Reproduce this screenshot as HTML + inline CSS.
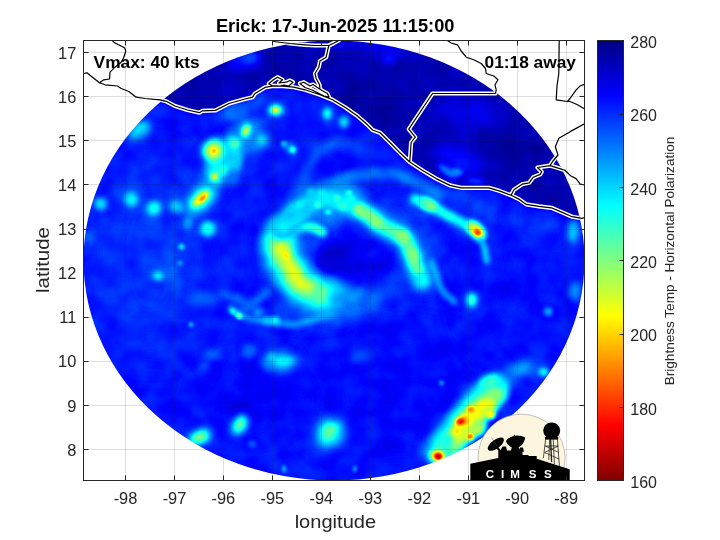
<!DOCTYPE html>
<html><head><meta charset="utf-8"><title>Erick</title>
<style>
html,body{margin:0;padding:0;background:#fff;}
body{width:720px;height:540px;overflow:hidden;font-family:"Liberation Sans",sans-serif;}
svg{display:block;will-change:transform;}
text{font-family:"Liberation Sans",sans-serif;}
</style></head><body>
<svg width="720" height="540" viewBox="0 0 720 540">
<defs>
<filter id="jet" x="0" y="0" width="720" height="540" filterUnits="userSpaceOnUse" color-interpolation-filters="sRGB">
<feTurbulence type="fractalNoise" baseFrequency="0.05" numOctaves="2" seed="11" result="n"/>
<feColorMatrix in="n" type="matrix" values="1 0 0 0 0 1 0 0 0 0 1 0 0 0 0 0 0 0 0 1" result="ng"/>
<feComposite in="SourceGraphic" in2="ng" operator="arithmetic" k1="0.12" k2="0.94" k3="0.06" k4="-0.03" result="vn"/>
<feComponentTransfer in="vn">
<feFuncR type="table" tableValues="0 0 0 0 0.5 1 1 1 0.5"/>
<feFuncG type="table" tableValues="0 0 0.5 1 1 1 0.5 0 0"/>
<feFuncB type="table" tableValues="0.5 1 1 1 0.5 0 0 0 0"/>
</feComponentTransfer></filter>
<filter id="b1" filterUnits="userSpaceOnUse" x="60" y="20" width="550" height="480" color-interpolation-filters="sRGB"><feGaussianBlur stdDeviation="1"/></filter>
<filter id="b1_5" filterUnits="userSpaceOnUse" x="60" y="20" width="550" height="480" color-interpolation-filters="sRGB"><feGaussianBlur stdDeviation="1.5"/></filter>
<filter id="b2" filterUnits="userSpaceOnUse" x="60" y="20" width="550" height="480" color-interpolation-filters="sRGB"><feGaussianBlur stdDeviation="2"/></filter>
<filter id="b2_5" filterUnits="userSpaceOnUse" x="60" y="20" width="550" height="480" color-interpolation-filters="sRGB"><feGaussianBlur stdDeviation="2.5"/></filter>
<filter id="b3" filterUnits="userSpaceOnUse" x="60" y="20" width="550" height="480" color-interpolation-filters="sRGB"><feGaussianBlur stdDeviation="3"/></filter>
<filter id="b4" filterUnits="userSpaceOnUse" x="60" y="20" width="550" height="480" color-interpolation-filters="sRGB"><feGaussianBlur stdDeviation="4"/></filter>
<filter id="b5" filterUnits="userSpaceOnUse" x="60" y="20" width="550" height="480" color-interpolation-filters="sRGB"><feGaussianBlur stdDeviation="5"/></filter>
<filter id="b6" filterUnits="userSpaceOnUse" x="60" y="20" width="550" height="480" color-interpolation-filters="sRGB"><feGaussianBlur stdDeviation="6"/></filter>
<filter id="b8" filterUnits="userSpaceOnUse" x="60" y="20" width="550" height="480" color-interpolation-filters="sRGB"><feGaussianBlur stdDeviation="8"/></filter>
<filter id="b10" filterUnits="userSpaceOnUse" x="60" y="20" width="550" height="480" color-interpolation-filters="sRGB"><feGaussianBlur stdDeviation="10"/></filter>
<filter id="b14" filterUnits="userSpaceOnUse" x="60" y="20" width="550" height="480" color-interpolation-filters="sRGB"><feGaussianBlur stdDeviation="14"/></filter>
<filter id="b20" filterUnits="userSpaceOnUse" x="60" y="20" width="550" height="480" color-interpolation-filters="sRGB"><feGaussianBlur stdDeviation="20"/></filter>
<filter id="b30" filterUnits="userSpaceOnUse" x="60" y="20" width="550" height="480" color-interpolation-filters="sRGB"><feGaussianBlur stdDeviation="30"/></filter>
<clipPath id="disc"><ellipse cx="334" cy="260.5" rx="250.5" ry="220"/></clipPath>
<clipPath id="landclip"><path d="M150 30L160 99.8L166.2 101.3L175 106L187.5 110L199.4 112.7L202.5 110.8L215.5 110.4L229 103.5L245 99L252.5 97.2L255 93.5L260 90.5L265 87.4L272 86.2L280 86L293.8 87.2L305 89.8L320 94.8L332.5 99.8L345 107.2L357.5 116L367.5 124.8L372.5 130L380 132.8L390 142.5L400 152.8L409.7 162L422.2 170.3L436.1 178.6L450 185.4L461.1 187.8L488.9 187.8L500 191.1L511.1 195.3L519.4 199.4L526.4 204.4L538.9 206.4L551.4 207.8L561.1 211.9L572.2 216.7L581.9 218.3L584.7 217.5L590 218L590 30Z"/></clipPath>
<clipPath id="axclip"><rect x="83.5" y="40.5" width="501" height="440"/></clipPath>
<linearGradient id="cbar" x1="0" y1="0" x2="0" y2="1">
<stop offset="0" stop-color="rgb(0,0,132)"/>
<stop offset="0.125" stop-color="rgb(0,0,255)"/>
<stop offset="0.25" stop-color="rgb(0,128,255)"/>
<stop offset="0.375" stop-color="rgb(0,255,255)"/>
<stop offset="0.5" stop-color="rgb(128,255,128)"/>
<stop offset="0.625" stop-color="rgb(255,255,0)"/>
<stop offset="0.75" stop-color="rgb(255,128,0)"/>
<stop offset="0.875" stop-color="rgb(255,0,0)"/>
<stop offset="1" stop-color="rgb(128,0,0)"/>
</linearGradient>
</defs>
<rect x="0" y="0" width="720" height="540" fill="#fff"/>
<g clip-path="url(#disc)">
<g filter="url(#jet)">
<rect x="80" y="36" width="510" height="450" fill="rgb(37,37,37)"/>
<ellipse cx="150" cy="255" rx="60" ry="95" fill="rgb(44,44,44)" filter="url(#b20)"/>
<ellipse cx="400" cy="400" rx="90" ry="60" fill="rgb(33,33,33)" filter="url(#b20)"/>
<ellipse cx="520" cy="280" rx="50" ry="80" fill="rgb(36,36,36)" filter="url(#b20)"/>
<ellipse cx="250" cy="400" rx="50" ry="30" fill="rgb(31,31,31)" filter="url(#b14)"/>
<path d="M150 30L160 99.8L166.2 101.3L175 106L187.5 110L199.4 112.7L202.5 110.8L215.5 110.4L229 103.5L245 99L252.5 97.2L255 93.5L260 90.5L265 87.4L272 86.2L280 86L293.8 87.2L305 89.8L320 94.8L332.5 99.8L345 107.2L357.5 116L367.5 124.8L372.5 130L380 132.8L390 142.5L400 152.8L409.7 162L422.2 170.3L436.1 178.6L450 185.4L461.1 187.8L488.9 187.8L500 191.1L511.1 195.3L519.4 199.4L526.4 204.4L538.9 206.4L551.4 207.8L561.1 211.9L572.2 216.7L581.9 218.3L584.7 217.5L590 218L590 30Z" fill="rgb(13,13,13)" filter="url(#b2_5)"/>
<g clip-path="url(#landclip)">
<ellipse cx="245" cy="60" rx="17" ry="10" transform="rotate(-20 245 60)" fill="rgb(38,38,38)" filter="url(#b5)"/>
<ellipse cx="250" cy="58" rx="8" ry="5" transform="rotate(-20 250 58)" fill="rgb(54,54,54)" filter="url(#b3)"/>
<ellipse cx="370" cy="110" rx="38" ry="30" transform="rotate(35 370 110)" fill="rgb(9,9,9)" filter="url(#b8)"/>
<ellipse cx="300" cy="70" rx="25" ry="12" fill="rgb(10,10,10)" filter="url(#b6)"/>
<ellipse cx="370" cy="47" rx="55" ry="7" transform="rotate(6 370 47)" fill="rgb(26,26,26)" filter="url(#b4)"/>
<ellipse cx="388" cy="59" rx="7" ry="5" fill="rgb(38,38,38)" filter="url(#b3)"/>
<ellipse cx="470" cy="115" rx="32" ry="18" transform="rotate(10 470 115)" fill="rgb(26,26,26)" filter="url(#b8)"/>
<ellipse cx="515" cy="150" rx="42" ry="13" transform="rotate(20 515 150)" fill="rgb(9,9,9)" filter="url(#b6)"/>
<ellipse cx="460" cy="160" rx="24" ry="13" transform="rotate(30 460 160)" fill="rgb(36,36,36)" filter="url(#b6)"/>
<ellipse cx="447" cy="171" rx="12" ry="4" transform="rotate(32 447 171)" fill="rgb(64,64,64)" filter="url(#b2_5)"/>
<ellipse cx="457" cy="172" rx="6" ry="3.5" transform="rotate(20 457 172)" fill="rgb(71,71,71)" filter="url(#b2)"/>
<ellipse cx="475" cy="181" rx="10" ry="3.5" transform="rotate(10 475 181)" fill="rgb(48,48,48)" filter="url(#b2_5)"/>
<ellipse cx="530" cy="76" rx="20" ry="10" transform="rotate(35 530 76)" fill="rgb(23,23,23)" filter="url(#b6)"/>
<ellipse cx="545" cy="195" rx="22" ry="8" transform="rotate(15 545 195)" fill="rgb(10,10,10)" filter="url(#b4)"/>
</g>
<ellipse cx="352" cy="305" rx="34" ry="16" transform="rotate(-8 352 305)" fill="rgb(52,52,52)" filter="url(#b6)"/>
<ellipse cx="310" cy="315" rx="40" ry="11" fill="rgb(48,48,48)" filter="url(#b6)"/>
<path d="M338 299C341.7 299.2 352.7 300.7 360 300C367.3 299.3 375.3 297.7 382 295C388.7 292.3 395.0 287.2 400 284C405.0 280.8 410.0 277.3 412 276" fill="none" stroke="rgb(60,60,60)" stroke-width="12" stroke-linecap="round" stroke-linejoin="round" filter="url(#b4)"/>
<ellipse cx="303" cy="265" rx="30" ry="42" fill="rgb(51,51,51)" filter="url(#b8)"/>
<ellipse cx="400" cy="250" rx="40" ry="45" fill="rgb(46,46,46)" filter="url(#b10)"/>
<path d="M296 206C296.8 203.0 299.2 194.0 301 188C302.8 182.0 303.8 175.8 307 170C310.2 164.2 314.5 157.5 320 153C325.5 148.5 333.8 144.2 340 143C346.2 141.8 354.2 145.5 357 146" fill="none" stroke="rgb(55,55,55)" stroke-width="10" stroke-linecap="round" stroke-linejoin="round" filter="url(#b4)"/>
<path d="M333 182C336.2 180.9 345.8 176.9 352 175.5C358.2 174.1 362.8 173.8 370 173.5C377.2 173.2 386.7 172.1 395 174C403.3 175.9 412.3 181.3 420 185C427.7 188.7 437.5 194.2 441 196" fill="none" stroke="rgb(64,64,64)" stroke-width="11" stroke-linecap="round" stroke-linejoin="round" filter="url(#b3)"/>
<ellipse cx="332" cy="202" rx="31" ry="21" transform="rotate(-10 332 202)" fill="rgb(69,69,69)" filter="url(#b6)"/>
<ellipse cx="366" cy="258" rx="32" ry="24" fill="rgb(29,29,29)" filter="url(#b8)"/>
<ellipse cx="331" cy="261" rx="17" ry="19" fill="rgb(22,22,22)" filter="url(#b5)"/>
<ellipse cx="335" cy="160" rx="18" ry="8" transform="rotate(-10 335 160)" fill="rgb(33,33,33)" filter="url(#b5)"/>
<path d="M279 245C279.7 247.2 281.0 253.5 283 258C285.0 262.5 287.8 267.5 291 272C294.2 276.5 297.7 281.2 302 285C306.3 288.8 311.5 292.7 317 295C322.5 297.3 332.0 298.3 335 299" fill="none" stroke="rgb(64,64,64)" stroke-width="42" stroke-linecap="round" stroke-linejoin="round" filter="url(#b5)"/>
<path d="M281 232C280.7 234.2 278.7 240.7 279 245C279.3 249.3 281.0 253.5 283 258C285.0 262.5 287.8 267.5 291 272C294.2 276.5 297.7 281.2 302 285C306.3 288.8 313.0 292.8 317 295C321.0 297.2 324.5 297.5 326 298" fill="none" stroke="rgb(89,89,89)" stroke-width="33" stroke-linecap="round" stroke-linejoin="round" filter="url(#b4)"/>
<path d="M281 237C280.8 238.5 279.5 242.5 280 246C280.5 249.5 282.1 253.7 284 258C285.9 262.3 288.5 267.7 291.5 272C294.5 276.3 297.9 280.5 302 284C306.1 287.5 313.7 291.5 316 293" fill="none" stroke="rgb(120,120,120)" stroke-width="24" stroke-linecap="round" stroke-linejoin="round" filter="url(#b3)"/>
<path d="M281.5 243C282.1 245.5 283.2 253.3 285 258C286.8 262.7 289.3 267.0 292 271C294.7 275.0 298.2 279.2 301 282C303.8 284.8 307.7 287.0 309 288" fill="none" stroke="rgb(153,153,153)" stroke-width="12" stroke-linecap="round" stroke-linejoin="round" filter="url(#b3)"/>
<path d="M284 232C286.3 231.2 293.3 227.8 298 227C302.7 226.2 308.0 226.2 312 227C316.0 227.8 320.3 231.2 322 232" fill="none" stroke="rgb(110,110,110)" stroke-width="9" stroke-linecap="round" stroke-linejoin="round" filter="url(#b2_5)"/>
<ellipse cx="286.5" cy="256.5" rx="2.4" ry="4.2" transform="rotate(-15 286.5 256.5)" fill="rgb(173,173,173)" filter="url(#b1_5)"/>
<path d="M335 300C337.2 299.5 343.8 298.2 348 297C352.2 295.8 358.0 293.7 360 293" fill="none" stroke="rgb(69,69,69)" stroke-width="9" stroke-linecap="round" stroke-linejoin="round" filter="url(#b3)"/>
<path d="M231 309C233.0 310.2 238.5 314.2 243 316C247.5 317.8 252.3 318.8 258 320C263.7 321.2 270.8 322.3 277 323C283.2 323.7 289.2 324.5 295 324C300.8 323.5 305.7 322.0 312 320C318.3 318.0 329.5 313.3 333 312" fill="none" stroke="rgb(76,76,76)" stroke-width="6" stroke-linecap="round" stroke-linejoin="round" filter="url(#b2_5)"/>
<path d="M283 228C284.8 225.7 289.3 218.0 294 214C298.7 210.0 304.2 206.5 311 204C317.8 201.5 326.7 198.0 335 199C343.3 200.0 353.8 206.0 361 210C368.2 214.0 371.0 218.5 378 223C385.0 227.5 397.5 232.3 403 237C408.5 241.7 408.7 245.8 411 251C413.3 256.2 415.3 263.2 417 268C418.7 272.8 420.3 278.0 421 280" fill="none" stroke="rgb(66,66,66)" stroke-width="25" stroke-linecap="round" stroke-linejoin="round" filter="url(#b5)"/>
<path d="M283 228C284.8 225.7 289.3 218.0 294 214C298.7 210.0 304.2 206.5 311 204C317.8 201.5 326.7 198.0 335 199C343.3 200.0 353.8 206.0 361 210C368.2 214.0 371.0 218.5 378 223C385.0 227.5 397.5 232.3 403 237C408.5 241.7 408.7 245.8 411 251C413.3 256.2 415.3 263.2 417 268C418.7 272.8 420.3 278.0 421 280" fill="none" stroke="rgb(93,93,93)" stroke-width="17" stroke-linecap="round" stroke-linejoin="round" filter="url(#b3)"/>
<ellipse cx="299" cy="214" rx="14" ry="8" transform="rotate(-38 299 214)" fill="rgb(89,89,89)" filter="url(#b3)"/>
<path d="M361 210C363.8 212.2 371.0 218.5 378 223C385.0 227.5 397.5 232.3 403 237C408.5 241.7 408.7 245.8 411 251C413.3 256.2 416.0 265.2 417 268" fill="none" stroke="rgb(120,120,120)" stroke-width="11" stroke-linecap="round" stroke-linejoin="round" filter="url(#b2_5)"/>
<ellipse cx="361" cy="210.5" rx="8" ry="5" transform="rotate(25 361 210.5)" fill="rgb(128,128,128)" filter="url(#b2_5)"/>
<ellipse cx="378" cy="223" rx="7" ry="4.5" transform="rotate(30 378 223)" fill="rgb(133,133,133)" filter="url(#b2_5)"/>
<ellipse cx="403" cy="238" rx="6" ry="6" fill="rgb(128,128,128)" filter="url(#b2_5)"/>
<ellipse cx="412" cy="253" rx="4" ry="7" transform="rotate(-20 412 253)" fill="rgb(122,122,122)" filter="url(#b2)"/>
<ellipse cx="417" cy="268" rx="3.5" ry="6" transform="rotate(-10 417 268)" fill="rgb(122,122,122)" filter="url(#b2)"/>
<path d="M431 262C432.0 264.5 435.2 272.3 437 277C438.8 281.7 439.2 285.8 442 290C444.8 294.2 452.0 300.0 454 302" fill="none" stroke="rgb(79,79,79)" stroke-width="6" stroke-linecap="round" stroke-linejoin="round" filter="url(#b2_5)"/>
<ellipse cx="318" cy="205" rx="4" ry="3" fill="rgb(112,112,112)" filter="url(#b1_5)"/>
<ellipse cx="337" cy="198" rx="3" ry="3" fill="rgb(115,115,115)" filter="url(#b1_5)"/>
<ellipse cx="349" cy="193" rx="3" ry="2.5" fill="rgb(107,107,107)" filter="url(#b1_5)"/>
<ellipse cx="328" cy="212" rx="3" ry="2.5" fill="rgb(107,107,107)" filter="url(#b1_5)"/>
<ellipse cx="300" cy="205" rx="4" ry="3" fill="rgb(102,102,102)" filter="url(#b2)"/>
<ellipse cx="343" cy="207" rx="4" ry="3" fill="rgb(107,107,107)" filter="url(#b2)"/>
<ellipse cx="322" cy="193" rx="4" ry="3" fill="rgb(92,92,92)" filter="url(#b2)"/>
<ellipse cx="352" cy="199" rx="4" ry="3" fill="rgb(102,102,102)" filter="url(#b2)"/>
<ellipse cx="310" cy="192" rx="4" ry="3" fill="rgb(84,84,84)" filter="url(#b2)"/>
<path d="M415 199C416.8 199.6 420.9 200.1 426 202.5C431.1 204.9 440.0 210.6 445.6 213.6C451.2 216.6 455.0 218.2 459.4 220.6C463.8 223.0 469.9 226.8 472 228" fill="none" stroke="rgb(69,69,69)" stroke-width="14" stroke-linecap="round" stroke-linejoin="round" filter="url(#b3)"/>
<path d="M415 199C416.8 199.6 420.9 200.1 426 202.5C431.1 204.9 440.0 210.6 445.6 213.6C451.2 216.6 455.0 218.2 459.4 220.6C463.8 223.0 469.9 226.8 472 228" fill="none" stroke="rgb(102,102,102)" stroke-width="8" stroke-linecap="round" stroke-linejoin="round" filter="url(#b2)"/>
<ellipse cx="429" cy="204.5" rx="11" ry="6" transform="rotate(25 429 204.5)" fill="rgb(102,102,102)" filter="url(#b2_5)"/>
<ellipse cx="429.5" cy="205" rx="8" ry="4" transform="rotate(25 429.5 205)" fill="rgb(133,133,133)" filter="url(#b2)"/>
<ellipse cx="476" cy="230" rx="13" ry="7.5" transform="rotate(50 476 230)" fill="rgb(107,107,107)" filter="url(#b2_5)"/>
<ellipse cx="476" cy="230" rx="10" ry="5" transform="rotate(50 476 230)" fill="rgb(156,156,156)" filter="url(#b2)"/>
<ellipse cx="477.4" cy="232.2" rx="4.8" ry="3.2" transform="rotate(50 477.4 232.2)" fill="rgb(194,194,194)" filter="url(#b1_5)"/>
<ellipse cx="477.6" cy="232.6" rx="2.6" ry="1.8" transform="rotate(50 477.6 232.6)" fill="rgb(212,212,212)" filter="url(#b1)"/>
<path d="M481 240C481.6 241.4 483.4 244.8 484.4 248.3C485.3 251.8 486.3 258.9 486.7 261" fill="none" stroke="rgb(82,82,82)" stroke-width="6" stroke-linecap="round" stroke-linejoin="round" filter="url(#b2)"/>
<ellipse cx="472" cy="299.7" rx="6.5" ry="9" fill="rgb(76,76,76)" filter="url(#b3)"/>
<ellipse cx="472" cy="299.7" rx="3.4" ry="5.4" fill="rgb(112,112,112)" filter="url(#b2)"/>
<ellipse cx="548.3" cy="312" rx="4" ry="4" fill="rgb(87,87,87)" filter="url(#b2)"/>
<ellipse cx="573.3" cy="231.7" rx="6" ry="11" fill="rgb(79,79,79)" filter="url(#b3)"/>
<ellipse cx="574.7" cy="291.4" rx="6" ry="10" fill="rgb(69,69,69)" filter="url(#b3)"/>
<ellipse cx="509.4" cy="290" rx="7" ry="7" fill="rgb(26,26,26)" filter="url(#b4)"/>
<ellipse cx="424.4" cy="203.9" rx="5" ry="4" fill="rgb(102,102,102)" filter="url(#b2)"/>
<ellipse cx="470" cy="205" rx="30" ry="10" transform="rotate(18 470 205)" fill="rgb(47,47,47)" filter="url(#b6)"/>
<ellipse cx="530" cy="225" rx="30" ry="10" transform="rotate(15 530 225)" fill="rgb(46,46,46)" filter="url(#b6)"/>
<path d="M268 292C266.0 293.5 260.0 297.8 256 301C252.0 304.2 246.0 309.3 244 311" fill="none" stroke="rgb(69,69,69)" stroke-width="6" stroke-linecap="round" stroke-linejoin="round" filter="url(#b3)"/>
<ellipse cx="239" cy="316" rx="3.2" ry="2.4" transform="rotate(30 239 316)" fill="rgb(140,140,140)" filter="url(#b1_5)"/>
<ellipse cx="233" cy="311.5" rx="4" ry="2.5" transform="rotate(35 233 311.5)" fill="rgb(97,97,97)" filter="url(#b1_5)"/>
<ellipse cx="258" cy="312" rx="4" ry="3" fill="rgb(92,92,92)" filter="url(#b2)"/>
<ellipse cx="275" cy="320.5" rx="5" ry="3.5" fill="rgb(102,102,102)" filter="url(#b2)"/>
<ellipse cx="203" cy="300" rx="16" ry="6" fill="rgb(59,59,59)" filter="url(#b4)"/>
<ellipse cx="172" cy="268" rx="6" ry="22" transform="rotate(-20 172 268)" fill="rgb(54,54,54)" filter="url(#b4)"/>
<path d="M222 293C225.0 294.2 233.3 296.8 240 300C246.7 303.2 258.3 310.0 262 312" fill="none" stroke="rgb(66,66,66)" stroke-width="6" stroke-linecap="round" stroke-linejoin="round" filter="url(#b3)"/>
<ellipse cx="267" cy="320" rx="5" ry="3.5" fill="rgb(87,87,87)" filter="url(#b2)"/>
<ellipse cx="191" cy="324.4" rx="2.5" ry="2.5" fill="rgb(84,84,84)" filter="url(#b1_5)"/>
<ellipse cx="157.8" cy="275.8" rx="7" ry="6" fill="rgb(69,69,69)" filter="url(#b3)"/>
<ellipse cx="157.8" cy="275.8" rx="4" ry="3.5" fill="rgb(97,97,97)" filter="url(#b2)"/>
<ellipse cx="181.4" cy="246.7" rx="3" ry="3" fill="rgb(89,89,89)" filter="url(#b1_5)"/>
<ellipse cx="180" cy="263" rx="2.5" ry="2.5" fill="rgb(76,76,76)" filter="url(#b1_5)"/>
<ellipse cx="88" cy="236" rx="5" ry="5" fill="rgb(61,61,61)" filter="url(#b3)"/>
<ellipse cx="249.4" cy="349.4" rx="7" ry="5" fill="rgb(69,69,69)" filter="url(#b3)"/>
<ellipse cx="213" cy="355" rx="8" ry="5" fill="rgb(56,56,56)" filter="url(#b3)"/>
<ellipse cx="281" cy="361" rx="19" ry="11.5" fill="rgb(68,68,68)" filter="url(#b4)"/>
<ellipse cx="284" cy="360.5" rx="9.5" ry="5" fill="rgb(97,97,97)" filter="url(#b2_5)"/>
<ellipse cx="272" cy="357" rx="4" ry="3" fill="rgb(87,87,87)" filter="url(#b2)"/>
<ellipse cx="249.4" cy="354" rx="6" ry="4" fill="rgb(66,66,66)" filter="url(#b3)"/>
<ellipse cx="203.6" cy="366.4" rx="5" ry="4" fill="rgb(59,59,59)" filter="url(#b3)"/>
<ellipse cx="358" cy="358" rx="10" ry="5" fill="rgb(56,56,56)" filter="url(#b4)"/>
<ellipse cx="241" cy="406.7" rx="14" ry="10" fill="rgb(28,28,28)" filter="url(#b6)"/>
<path d="M250 126C247.7 128.7 240.7 136.3 236 142C231.3 147.7 225.7 153.7 222 160C218.3 166.3 216.8 174.3 214 180C211.2 185.7 208.3 189.7 205 194C201.7 198.3 195.8 204.0 194 206" fill="none" stroke="rgb(60,60,60)" stroke-width="26" stroke-linecap="round" stroke-linejoin="round" filter="url(#b5)"/>
<path d="M246 130C244.0 132.3 238.0 138.7 234 144C230.0 149.3 225.3 156.0 222 162C218.7 168.0 216.8 174.7 214 180C211.2 185.3 208.0 190.0 205 194C202.0 198.0 197.5 202.3 196 204" fill="none" stroke="rgb(76,76,76)" stroke-width="15" stroke-linecap="round" stroke-linejoin="round" filter="url(#b4)"/>
<ellipse cx="250" cy="138" rx="18" ry="12" transform="rotate(20 250 138)" fill="rgb(64,64,64)" filter="url(#b5)"/>
<ellipse cx="225" cy="160" rx="15" ry="21" transform="rotate(38 225 160)" fill="rgb(88,88,88)" filter="url(#b4)"/>
<ellipse cx="214.5" cy="150.5" rx="13" ry="12.5" fill="rgb(97,97,97)" filter="url(#b3)"/>
<ellipse cx="214.2" cy="150.8" rx="9.5" ry="9" fill="rgb(128,128,128)" filter="url(#b2_5)"/>
<ellipse cx="214" cy="151" rx="6" ry="5.5" fill="rgb(153,153,153)" filter="url(#b2)"/>
<ellipse cx="214" cy="151" rx="2.2" ry="2" fill="rgb(176,176,176)" filter="url(#b1)"/>
<ellipse cx="246" cy="130.7" rx="6" ry="8.5" transform="rotate(25 246 130.7)" fill="rgb(97,97,97)" filter="url(#b2_5)"/>
<ellipse cx="246" cy="130.7" rx="3.6" ry="5.6" transform="rotate(25 246 130.7)" fill="rgb(133,133,133)" filter="url(#b1_5)"/>
<ellipse cx="246.2" cy="130.5" rx="2" ry="3" transform="rotate(25 246.2 130.5)" fill="rgb(148,148,148)" filter="url(#b1)"/>
<ellipse cx="234.2" cy="142.8" rx="7" ry="6" fill="rgb(102,102,102)" filter="url(#b2_5)"/>
<ellipse cx="215.5" cy="176.5" rx="7.5" ry="7.5" fill="rgb(97,97,97)" filter="url(#b2_5)"/>
<ellipse cx="214.8" cy="176.7" rx="4.2" ry="4.4" fill="rgb(133,133,133)" filter="url(#b1_5)"/>
<ellipse cx="214.6" cy="176.9" rx="2.2" ry="2.4" fill="rgb(156,156,156)" filter="url(#b1)"/>
<ellipse cx="224.2" cy="171.5" rx="5" ry="4" fill="rgb(117,117,117)" filter="url(#b2)"/>
<ellipse cx="234.7" cy="144" rx="3.4" ry="3" fill="rgb(122,122,122)" filter="url(#b1_5)"/>
<ellipse cx="200.5" cy="198.5" rx="17" ry="9.5" transform="rotate(-42 200.5 198.5)" fill="rgb(92,92,92)" filter="url(#b3)"/>
<ellipse cx="200.5" cy="198.5" rx="12" ry="5.6" transform="rotate(-42 200.5 198.5)" fill="rgb(133,133,133)" filter="url(#b2)"/>
<ellipse cx="201" cy="198" rx="9" ry="3.6" transform="rotate(-42 201 198)" fill="rgb(163,163,163)" filter="url(#b1_5)"/>
<ellipse cx="202.6" cy="198.3" rx="3.6" ry="1.8" transform="rotate(-42 202.6 198.3)" fill="rgb(189,189,189)" filter="url(#b1)"/>
<ellipse cx="153.6" cy="208" rx="11" ry="9" fill="rgb(61,61,61)" filter="url(#b4)"/>
<ellipse cx="153.6" cy="208" rx="6.5" ry="6.5" fill="rgb(99,99,99)" filter="url(#b2_5)"/>
<ellipse cx="131.4" cy="199.7" rx="11" ry="10" fill="rgb(60,60,60)" filter="url(#b4)"/>
<ellipse cx="131.4" cy="199.7" rx="6" ry="6.5" fill="rgb(92,92,92)" filter="url(#b2_5)"/>
<ellipse cx="100.8" cy="203.9" rx="7" ry="7" fill="rgb(64,64,64)" filter="url(#b3)"/>
<ellipse cx="100.8" cy="203.9" rx="5" ry="5" fill="rgb(89,89,89)" filter="url(#b2_5)"/>
<ellipse cx="140" cy="131" rx="13" ry="8" transform="rotate(-35 140 131)" fill="rgb(69,69,69)" filter="url(#b3)"/>
<ellipse cx="139.7" cy="129.5" rx="8" ry="5" transform="rotate(-35 139.7 129.5)" fill="rgb(89,89,89)" filter="url(#b2_5)"/>
<ellipse cx="177.2" cy="206.7" rx="9" ry="7" fill="rgb(64,64,64)" filter="url(#b3)"/>
<ellipse cx="177.2" cy="206.7" rx="6" ry="5" fill="rgb(87,87,87)" filter="url(#b2_5)"/>
<ellipse cx="207.8" cy="228.9" rx="9" ry="8" fill="rgb(69,69,69)" filter="url(#b3)"/>
<ellipse cx="207.8" cy="228.9" rx="6.5" ry="6.5" fill="rgb(97,97,97)" filter="url(#b2_5)"/>
<ellipse cx="188.3" cy="223.3" rx="4" ry="7" transform="rotate(20 188.3 223.3)" fill="rgb(71,71,71)" filter="url(#b2_5)"/>
<ellipse cx="235.6" cy="112.2" rx="9" ry="7" fill="rgb(61,61,61)" filter="url(#b3)"/>
<path d="M222 116C225.5 114.8 236.3 111.7 243 109C249.7 106.3 258.8 101.5 262 100" fill="none" stroke="rgb(55,55,55)" stroke-width="11" stroke-linecap="round" stroke-linejoin="round" filter="url(#b4)"/>
<ellipse cx="262" cy="140" rx="8" ry="8" fill="rgb(69,69,69)" filter="url(#b3)"/>
<ellipse cx="262" cy="140" rx="4" ry="4" fill="rgb(94,94,94)" filter="url(#b2)"/>
<ellipse cx="275.8" cy="110" rx="10" ry="7" fill="rgb(76,76,76)" filter="url(#b3)"/>
<ellipse cx="275.8" cy="110" rx="6" ry="4.4" fill="rgb(117,117,117)" filter="url(#b2)"/>
<ellipse cx="275.8" cy="110" rx="3.6" ry="2.6" fill="rgb(153,153,153)" filter="url(#b1_5)"/>
<ellipse cx="327.2" cy="113.6" rx="6" ry="7" fill="rgb(66,66,66)" filter="url(#b3)"/>
<ellipse cx="327.2" cy="113.6" rx="3.5" ry="4.5" fill="rgb(102,102,102)" filter="url(#b2)"/>
<ellipse cx="343.9" cy="121.9" rx="6" ry="7" fill="rgb(64,64,64)" filter="url(#b3)"/>
<ellipse cx="343.9" cy="121.9" rx="3.5" ry="4.5" fill="rgb(97,97,97)" filter="url(#b2)"/>
<ellipse cx="290" cy="148" rx="7" ry="5" transform="rotate(35 290 148)" fill="rgb(69,69,69)" filter="url(#b2_5)"/>
<ellipse cx="292.5" cy="149.7" rx="3" ry="3" fill="rgb(107,107,107)" filter="url(#b1_5)"/>
<ellipse cx="284" cy="144" rx="3" ry="3" fill="rgb(82,82,82)" filter="url(#b1_5)"/>
<ellipse cx="235.6" cy="162" rx="5" ry="9" fill="rgb(84,84,84)" filter="url(#b2_5)"/>
<ellipse cx="232" cy="178" rx="8" ry="10" fill="rgb(59,59,59)" filter="url(#b4)"/>
<ellipse cx="199.4" cy="437.2" rx="14" ry="8.5" transform="rotate(-25 199.4 437.2)" fill="rgb(76,76,76)" filter="url(#b3)"/>
<ellipse cx="199.4" cy="437.2" rx="9.5" ry="5.5" transform="rotate(-25 199.4 437.2)" fill="rgb(102,102,102)" filter="url(#b2_5)"/>
<ellipse cx="199.4" cy="437.4" rx="6.5" ry="3.6" transform="rotate(-25 199.4 437.4)" fill="rgb(128,128,128)" filter="url(#b2)"/>
<ellipse cx="239.7" cy="424.7" rx="8.5" ry="12.5" transform="rotate(30 239.7 424.7)" fill="rgb(74,74,74)" filter="url(#b3)"/>
<ellipse cx="239.7" cy="424.7" rx="5" ry="8.5" transform="rotate(30 239.7 424.7)" fill="rgb(97,97,97)" filter="url(#b2_5)"/>
<ellipse cx="240" cy="424" rx="3" ry="5.5" transform="rotate(30 240 424)" fill="rgb(117,117,117)" filter="url(#b2)"/>
<ellipse cx="252" cy="444" rx="4" ry="3" fill="rgb(71,71,71)" filter="url(#b2)"/>
<ellipse cx="329.5" cy="433" rx="16" ry="18" transform="rotate(20 329.5 433)" fill="rgb(69,69,69)" filter="url(#b4)"/>
<ellipse cx="329.5" cy="433" rx="10.5" ry="12.5" transform="rotate(20 329.5 433)" fill="rgb(97,97,97)" filter="url(#b3)"/>
<ellipse cx="329.5" cy="432" rx="6" ry="8" transform="rotate(20 329.5 432)" fill="rgb(128,128,128)" filter="url(#b2_5)"/>
<ellipse cx="441.4" cy="383" rx="2.5" ry="2.5" fill="rgb(76,76,76)" filter="url(#b1_5)"/>
<ellipse cx="355" cy="469" rx="2" ry="3" fill="rgb(76,76,76)" filter="url(#b1_5)"/>
<ellipse cx="284" cy="469" rx="2" ry="3.5" fill="rgb(76,76,76)" filter="url(#b1_5)"/>
<path d="M436 452C438.0 449.3 443.7 441.5 448 436C452.3 430.5 457.2 424.7 462 419C466.8 413.3 472.3 406.8 477 402C481.7 397.2 487.8 392.0 490 390" fill="none" stroke="rgb(69,69,69)" stroke-width="30" stroke-linecap="round" stroke-linejoin="round" filter="url(#b4)"/>
<path d="M490 388C492.5 386.2 499.7 380.2 505 377C510.3 373.8 516.2 370.3 522 369C527.8 367.7 537.0 369.0 540 369" fill="none" stroke="rgb(62,62,62)" stroke-width="15" stroke-linecap="round" stroke-linejoin="round" filter="url(#b4)"/>
<path d="M446 446C448.0 443.3 453.8 435.2 458 430C462.2 424.8 466.7 419.7 471 415C475.3 410.3 480.2 406.2 484 402C487.8 397.8 492.3 392.0 494 390" fill="none" stroke="rgb(97,97,97)" stroke-width="30" stroke-linecap="round" stroke-linejoin="round" filter="url(#b3)"/>
<path d="M455 440C456.7 437.7 461.5 430.3 465 426C468.5 421.7 472.3 417.7 476 414C479.7 410.3 484.0 406.7 487 404C490.0 401.3 492.8 399.0 494 398" fill="none" stroke="rgb(128,128,128)" stroke-width="22" stroke-linecap="round" stroke-linejoin="round" filter="url(#b3)"/>
<path d="M457 434C458.5 432.2 462.8 426.5 466 423C469.2 419.5 472.3 415.8 476 413C479.7 410.2 486.0 407.2 488 406" fill="none" stroke="rgb(156,156,156)" stroke-width="16" stroke-linecap="round" stroke-linejoin="round" filter="url(#b2_5)"/>
<ellipse cx="478" cy="428" rx="7" ry="9" transform="rotate(40 478 428)" fill="rgb(133,133,133)" filter="url(#b2_5)"/>
<ellipse cx="461.5" cy="421.5" rx="6.5" ry="4.5" transform="rotate(-20 461.5 421.5)" fill="rgb(194,194,194)" filter="url(#b2)"/>
<ellipse cx="460.5" cy="421.5" rx="3.6" ry="2.6" transform="rotate(-20 460.5 421.5)" fill="rgb(224,224,224)" filter="url(#b1)"/>
<ellipse cx="471" cy="409.5" rx="3.5" ry="3" fill="rgb(189,189,189)" filter="url(#b1_5)"/>
<ellipse cx="470" cy="436.5" rx="4.5" ry="4" fill="rgb(153,153,153)" filter="url(#b2)"/>
<ellipse cx="470" cy="436.5" rx="3" ry="2.6" fill="rgb(191,191,191)" filter="url(#b1)"/>
<ellipse cx="457" cy="431" rx="3" ry="2.5" fill="rgb(178,178,178)" filter="url(#b1_5)"/>
<ellipse cx="491" cy="414.4" rx="4.5" ry="4" fill="rgb(168,168,168)" filter="url(#b1_5)"/>
<ellipse cx="482" cy="405.6" rx="4" ry="3.5" fill="rgb(168,168,168)" filter="url(#b1_5)"/>
<ellipse cx="489" cy="382" rx="10" ry="5.5" transform="rotate(-25 489 382)" fill="rgb(107,107,107)" filter="url(#b2_5)"/>
<ellipse cx="510" cy="412" rx="12" ry="10" fill="rgb(43,43,43)" filter="url(#b5)"/>
<ellipse cx="522" cy="368" rx="9" ry="5" transform="rotate(-20 522 368)" fill="rgb(74,74,74)" filter="url(#b3)"/>
<ellipse cx="543.5" cy="372" rx="5" ry="4" fill="rgb(102,102,102)" filter="url(#b2)"/>
<ellipse cx="445" cy="442" rx="9" ry="6" transform="rotate(-50 445 442)" fill="rgb(102,102,102)" filter="url(#b2_5)"/>
<ellipse cx="437.2" cy="455.3" rx="10" ry="8" fill="rgb(102,102,102)" filter="url(#b2_5)"/>
<ellipse cx="437.5" cy="455.6" rx="7" ry="5.5" fill="rgb(163,163,163)" filter="url(#b2)"/>
<ellipse cx="438" cy="456" rx="4.6" ry="3.6" fill="rgb(219,219,219)" filter="url(#b1_5)"/>
<ellipse cx="438.3" cy="456.8" rx="2.6" ry="2.2" fill="rgb(247,247,247)" filter="url(#b1)"/>
</g>
</g>
<path d="M125.5 40.5V480.5M174.5 40.5V480.5M223.5 40.5V480.5M272.5 40.5V480.5M321.5 40.5V480.5M370.5 40.5V480.5M419.5 40.5V480.5M468.5 40.5V480.5M517.5 40.5V480.5M566.5 40.5V480.5M83.5 449.5H584.5M83.5 405.5H584.5M83.5 361.5H584.5M83.5 317.5H584.5M83.5 273.5H584.5M83.5 229.5H584.5M83.5 184.5H584.5M83.5 140.5H584.5M83.5 96.5H584.5M83.5 52.5H584.5" stroke="#262626" stroke-opacity="0.15" stroke-width="1" fill="none"/>
<g clip-path="url(#axclip)">
<g clip-path="url(#disc)"><path d="M111.2 39.5L113.8 42.2L118 44.5L124.5 47.8L125.8 51L123.8 57.2L121.2 62.2L115 67.2L110 72.2L109.5 79L103.8 79.8L99.5 82.8M83.5 73.5L87 72.8L92.5 77.2L99.5 82.8L105 84.8L117.5 86L121.2 88.5L128.8 91.5L136.2 97.2L145 98.5L160 99.8L166.2 101.3L175 106L187.5 110L199.4 112.7L202.5 110.8L215.5 110.4L229 103.5L245 99L252.5 97.2L255 93.5L260 90.5L265 87.4L272 86.2L280 86L293.8 87.2L305 89.8L320 94.8L332.5 99.8L345 107.2L357.5 116L367.5 124.8L372.5 130L380 132.8L390 142.5L400 152.8L409.7 162L422.2 170.3L436.1 178.6L450 185.4L461.1 187.8L488.9 187.8L500 191.1L511.1 195.3L519.4 199.4L526.4 204.4L538.9 206.4L551.4 207.8L561.1 211.9L572.2 216.7L581.9 218.3L584.7 217.5M268.8 83.8L273 80L277.5 77.2L282.5 79.8L279 83L286.2 82.2L290 80.5L293 82.2L288.8 86L284 85L280 86L272 85.5L268.8 83.8M300 83.5L303.8 82.2L310 86L313 84.5L317 87.2L322 90.5L327.5 93.5L329 97.2L324 96L318 93L312 90L305 87.5L300 83.5M273.8 39.8L273.8 41.5L290 43.5L305 44.8L315 45.5L328.8 45.5L334 43L338.8 40.5M328.8 45.5L327.5 51L326.2 57.2L320 61L318.8 67.2L315 73.5L316.2 78.5L319.5 84.8L320 88.5M409.7 162L410.6 150.8L411.1 142.5L415.3 137.2L408.8 129.2L432.5 93.5L495.5 93.5L496.2 89.8L495 84.8L498 79.8L493.8 76L486.2 73.5L485.5 68.5L481.2 63.5L473.8 59.8L466.2 57.2L461.2 51L457.5 44.8L451.2 43L447.5 40.5M559.2 40.5L558.8 73.5L557 86L556.2 99.8L567.5 101.5L570 101.5L577.5 104.8L583.8 108.5L585 109M567.5 101.5L570 98.5L576.2 89.8L580 86L585 84M511.1 195.3L513.9 189.7L522.2 184.2L529.2 182.8L533.3 177.2L540.3 174.4L541.7 171.7L537.5 167.5L550 165.6M550 165.6L553 161L558 155L555.3 146.7L558.9 138.3L570.6 131.4L585 123.6M550 165.6L559.7 168.6L565 170.3L570.6 175.8L576 178.6L580.3 184.2L585 185" fill="none" stroke="#fff" stroke-width="4.2" stroke-linejoin="round" stroke-linecap="round"/></g>
<path d="M111.2 39.5L113.8 42.2L118 44.5L124.5 47.8L125.8 51L123.8 57.2L121.2 62.2L115 67.2L110 72.2L109.5 79L103.8 79.8L99.5 82.8M83.5 73.5L87 72.8L92.5 77.2L99.5 82.8L105 84.8L117.5 86L121.2 88.5L128.8 91.5L136.2 97.2L145 98.5L160 99.8L166.2 101.3L175 106L187.5 110L199.4 112.7L202.5 110.8L215.5 110.4L229 103.5L245 99L252.5 97.2L255 93.5L260 90.5L265 87.4L272 86.2L280 86L293.8 87.2L305 89.8L320 94.8L332.5 99.8L345 107.2L357.5 116L367.5 124.8L372.5 130L380 132.8L390 142.5L400 152.8L409.7 162L422.2 170.3L436.1 178.6L450 185.4L461.1 187.8L488.9 187.8L500 191.1L511.1 195.3L519.4 199.4L526.4 204.4L538.9 206.4L551.4 207.8L561.1 211.9L572.2 216.7L581.9 218.3L584.7 217.5M268.8 83.8L273 80L277.5 77.2L282.5 79.8L279 83L286.2 82.2L290 80.5L293 82.2L288.8 86L284 85L280 86L272 85.5L268.8 83.8M300 83.5L303.8 82.2L310 86L313 84.5L317 87.2L322 90.5L327.5 93.5L329 97.2L324 96L318 93L312 90L305 87.5L300 83.5M273.8 39.8L273.8 41.5L290 43.5L305 44.8L315 45.5L328.8 45.5L334 43L338.8 40.5M328.8 45.5L327.5 51L326.2 57.2L320 61L318.8 67.2L315 73.5L316.2 78.5L319.5 84.8L320 88.5M409.7 162L410.6 150.8L411.1 142.5L415.3 137.2L408.8 129.2L432.5 93.5L495.5 93.5L496.2 89.8L495 84.8L498 79.8L493.8 76L486.2 73.5L485.5 68.5L481.2 63.5L473.8 59.8L466.2 57.2L461.2 51L457.5 44.8L451.2 43L447.5 40.5M559.2 40.5L558.8 73.5L557 86L556.2 99.8L567.5 101.5L570 101.5L577.5 104.8L583.8 108.5L585 109M567.5 101.5L570 98.5L576.2 89.8L580 86L585 84M511.1 195.3L513.9 189.7L522.2 184.2L529.2 182.8L533.3 177.2L540.3 174.4L541.7 171.7L537.5 167.5L550 165.6M550 165.6L553 161L558 155L555.3 146.7L558.9 138.3L570.6 131.4L585 123.6M550 165.6L559.7 168.6L565 170.3L570.6 175.8L576 178.6L580.3 184.2L585 185" fill="none" stroke="#000" stroke-width="1.2" stroke-linejoin="round" stroke-linecap="round"/>
</g>
<g>
<clipPath id="lgclip"><rect x="465" y="405" width="115" height="75"/></clipPath>
<circle cx="521.5" cy="457.7" r="43.5" fill="#fdf6df" stroke="#aaa79c" stroke-width="0.7" clip-path="url(#lgclip)"/>
<ellipse cx="551.7" cy="430.6" rx="8.5" ry="8.2" fill="#000"/>
<rect x="545" y="437" width="13.2" height="2.6" fill="#000"/>
<path d="M545.6 439L543.4 458M557.4 439L559.4 466M549.6 439L548.8 460M553.2 439L554.4 464M545 446H558M544.4 452.5L558.4 446M544.6 452.5L559 459M545.4 446L558.8 452.5" stroke="#1a1a1a" stroke-width="0.75" fill="none"/>
<path d="M550.6 439L551.6 462" stroke="#1a1a1a" stroke-width="1.3" fill="none"/>
<path d="M470.3 480V463.7L498.3 458V451L500.5 450L502.5 446.5H506L507 450.5H519L520 447.5H523L524 451.7H522.5V455H528.5V456H536.7V458.7L569.7 469.2V480Z" fill="#000"/>
<ellipse cx="495.8" cy="444.2" rx="9.6" ry="4.3" transform="rotate(-36 495.8 444.2)" fill="#000"/>
<path d="M497 446L502 451.5L499.5 452L495.5 447Z" fill="#000"/>
<path d="M491.5 437.5L497 446" stroke="#555" stroke-width="0.5" fill="none"/>
<path d="M505.8 441.2Q508 437.5 513.6 436L514.2 434.6L515.4 435.7Q521 435.2 525.2 437.6Q524.4 443.5 520 446.6Q516.5 448.6 513.4 448.2Q508 446.6 505.8 441.2Z" fill="#000"/>
<path d="M512 447L510.5 451.5H520.5L518.5 447Z" fill="#000"/>
<text x="490" y="477.6" font-size="11.6" font-weight="bold" fill="#fff" text-anchor="middle">C</text>
<text x="502.6" y="477.6" font-size="11.6" font-weight="bold" fill="#fff" text-anchor="middle">I</text>
<text x="515" y="477.6" font-size="11.6" font-weight="bold" fill="#fff" text-anchor="middle">M</text>
<text x="532.6" y="477.6" font-size="11.6" font-weight="bold" fill="#fff" text-anchor="middle">S</text>
<text x="547.8" y="477.6" font-size="11.6" font-weight="bold" fill="#fff" text-anchor="middle">S</text>
</g>
<path d="M125.5 480.5v-5M125.5 40.5v5M174.5 480.5v-5M174.5 40.5v5M223.5 480.5v-5M223.5 40.5v5M272.5 480.5v-5M272.5 40.5v5M321.5 480.5v-5M321.5 40.5v5M370.5 480.5v-5M370.5 40.5v5M419.5 480.5v-5M419.5 40.5v5M468.5 480.5v-5M468.5 40.5v5M517.5 480.5v-5M517.5 40.5v5M566.5 480.5v-5M566.5 40.5v5M83.5 449.5h5M584.5 449.5h-5M83.5 405.5h5M584.5 405.5h-5M83.5 361.5h5M584.5 361.5h-5M83.5 317.5h5M584.5 317.5h-5M83.5 273.5h5M584.5 273.5h-5M83.5 229.5h5M584.5 229.5h-5M83.5 184.5h5M584.5 184.5h-5M83.5 140.5h5M584.5 140.5h-5M83.5 96.5h5M584.5 96.5h-5M83.5 52.5h5M584.5 52.5h-5" stroke="#262626" stroke-width="1" fill="none"/>
<rect x="83.5" y="40.5" width="501" height="440" fill="none" stroke="#262626" stroke-width="1"/>
<text x="125.5" y="503.8" font-size="16.4" fill="#262626" text-anchor="middle">-98</text>
<text x="174.5" y="503.8" font-size="16.4" fill="#262626" text-anchor="middle">-97</text>
<text x="223.4" y="503.8" font-size="16.4" fill="#262626" text-anchor="middle">-96</text>
<text x="272.4" y="503.8" font-size="16.4" fill="#262626" text-anchor="middle">-95</text>
<text x="321.4" y="503.8" font-size="16.4" fill="#262626" text-anchor="middle">-94</text>
<text x="370.3" y="503.8" font-size="16.4" fill="#262626" text-anchor="middle">-93</text>
<text x="419.3" y="503.8" font-size="16.4" fill="#262626" text-anchor="middle">-92</text>
<text x="468.3" y="503.8" font-size="16.4" fill="#262626" text-anchor="middle">-91</text>
<text x="517.2" y="503.8" font-size="16.4" fill="#262626" text-anchor="middle">-90</text>
<text x="566.2" y="503.8" font-size="16.4" fill="#262626" text-anchor="middle">-89</text>
<text x="76.3" y="455.6" font-size="16.4" fill="#262626" text-anchor="end">8</text>
<text x="76.3" y="411.5" font-size="16.4" fill="#262626" text-anchor="end">9</text>
<text x="76.3" y="367.4" font-size="16.4" fill="#262626" text-anchor="end">10</text>
<text x="76.3" y="323.3" font-size="16.4" fill="#262626" text-anchor="end">11</text>
<text x="76.3" y="279.2" font-size="16.4" fill="#262626" text-anchor="end">12</text>
<text x="76.3" y="235.0" font-size="16.4" fill="#262626" text-anchor="end">13</text>
<text x="76.3" y="190.9" font-size="16.4" fill="#262626" text-anchor="end">14</text>
<text x="76.3" y="146.8" font-size="16.4" fill="#262626" text-anchor="end">15</text>
<text x="76.3" y="102.7" font-size="16.4" fill="#262626" text-anchor="end">16</text>
<text x="76.3" y="58.6" font-size="16.4" fill="#262626" text-anchor="end">17</text>
<text x="335.4" y="527.5" font-size="18.4" fill="#262626" text-anchor="middle" textLength="81.5" lengthAdjust="spacingAndGlyphs">longitude</text>
<text transform="translate(48.5,260) rotate(-90)" font-size="18.4" fill="#262626" text-anchor="middle" textLength="66" lengthAdjust="spacingAndGlyphs">latitude</text>
<text x="335.2" y="31.7" font-size="17.6" font-weight="bold" fill="#000" text-anchor="middle" textLength="238.6" lengthAdjust="spacingAndGlyphs">Erick: 17-Jun-2025 11:15:00</text>
<text x="93.6" y="67.6" font-size="16" font-weight="bold" fill="#000" textLength="106" lengthAdjust="spacingAndGlyphs">Vmax: 40 kts</text>
<text x="576" y="67.6" font-size="16" font-weight="bold" fill="#000" text-anchor="end" textLength="91.5" lengthAdjust="spacingAndGlyphs">01:18 away</text>
<rect x="597.5" y="40.5" width="26" height="440" fill="url(#cbar)" stroke="#262626" stroke-width="1"/>
<text x="630.3" y="47.8" font-size="16" fill="#262626">280</text>
<text x="630.3" y="121.1" font-size="16" fill="#262626">260</text>
<text x="630.3" y="194.5" font-size="16" fill="#262626">240</text>
<text x="630.3" y="267.8" font-size="16" fill="#262626">220</text>
<text x="630.3" y="341.1" font-size="16" fill="#262626">200</text>
<text x="630.3" y="414.5" font-size="16" fill="#262626">180</text>
<text x="630.3" y="487.8" font-size="16" fill="#262626">160</text>
<path d="M623.5 114.5h-4M623.5 187.5h-4M623.5 260.5h-4M623.5 334.5h-4M623.5 407.5h-4" stroke="#262626" stroke-width="1" fill="none"/>
<text transform="translate(674.3,261) rotate(-90)" font-size="13.2" fill="#262626" text-anchor="middle" textLength="248.6" lengthAdjust="spacingAndGlyphs">Brightness Temp - Horizontal Polarization</text>
</svg>
</body></html>
